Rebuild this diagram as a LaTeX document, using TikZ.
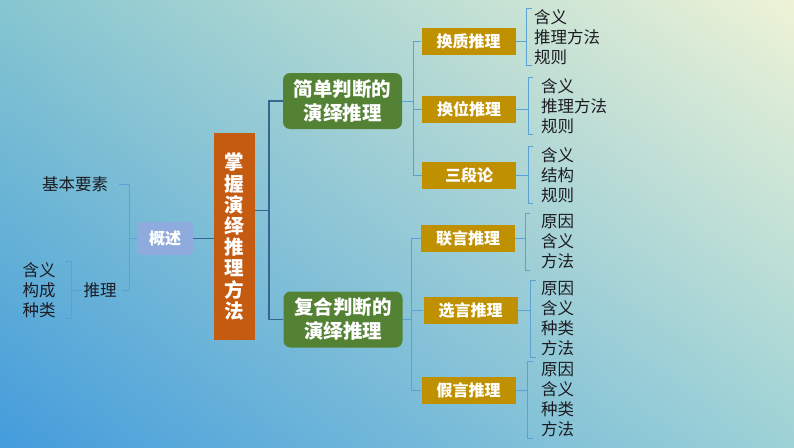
\documentclass[tikz,border=0pt]{standalone}
\usepackage{fontspec}
\setmainfont{Noto Sans CJK SC}
\usetikzlibrary{positioning,calc,shadings}
\definecolor{orng}{HTML}{C55A11}
\definecolor{grn}{HTML}{548235}
\definecolor{gold}{HTML}{BF9000}
\definecolor{gsblue}{HTML}{8FAADC}
\definecolor{ink}{HTML}{1C1C22}
\definecolor{lineblue}{HTML}{5AA2D6}
\definecolor{darkline}{HTML}{36658F}
\definecolor{bgtl}{HTML}{86C6D0}
\definecolor{bgtr}{HTML}{EEF3D6}
\definecolor{bgbl}{HTML}{449CDC}
\definecolor{bgbr}{HTML}{9DD2D6}

\begin{document}
\begin{tikzpicture}[x=1pt,y=-1pt,
	main/.style={fill=orng,text=white,font=\bfseries\fontsize{19.5}{21.2}\selectfont,align=center,minimum width=41pt,minimum height=207pt,inner sep=0pt},
	kind/.style={fill=grn,text=white,rounded corners=7pt,font=\bfseries\fontsize{19.5}{24}\selectfont,align=center,minimum width=119pt,minimum height=56pt,inner sep=0pt},
	sub/.style={fill=gold,text=white,font=\bfseries\fontsize{16}{18}\selectfont,minimum width=94pt,minimum height=27pt,inner sep=0pt},
	gsbox/.style={fill=gsblue,text=white,rounded corners=4pt,font=\bfseries\fontsize{16}{18}\selectfont,minimum width=56pt,minimum height=33pt,inner sep=0pt},
	item/.style={text=ink,font=\fontsize{16.5}{20}\selectfont,align=left,inner sep=1pt},
	brace/.style={draw=lineblue,line width=0.9pt},
	mainbrace/.style={draw=darkline,line width=1.5pt}]
	\shade[upper left=bgtl,upper right=bgtr,lower left=bgbl,lower right=bgbr] (0,0) rectangle (794,447);
	\useasboundingbox (0,0) rectangle (794,447);

	\node[main] (fa) at (234.5,236.5) {掌\\握\\演\\绎\\推\\理\\方\\法};
	\node[kind] (jd) at (342.5,101) {简单判断的\\演绎推理};
	\node[kind] (fh) at (343,319.5) {复合判断的\\演绎推理};
	\node[gsbox] (gs) at (165,238.5) {概述};
	\node[item] (yaosu) at (75,184) {基本要素};
	\node[item] (tl) at (100,290) {推理};
	\node[item] (tlx) at (39,290) {含义\\构成\\种类};

	\node[sub] (hz) at (468.5,41.5) {换质推理};
	\node[sub] (hw) at (469,109.5) {换位推理};
	\node[sub] (sd) at (469,175.5) {三段论};
	\node[sub] (ly) at (468,238.5) {联言推理};
	\node[sub] (xy) at (470.5,310) {选言推理};
	\node[sub] (jy) at (468.5,390) {假言推理};

	\node[item,anchor=west] (q1) at (533,37) {含义\\推理方法\\规则};
	\node[item,anchor=west] (q2) at (540,106) {含义\\推理方法\\规则};
	\node[item,anchor=west] (q3) at (540,175) {含义\\结构\\规则};
	\node[item,anchor=west] (q4) at (540,242) {原因\\含义\\方法};
	\node[item,anchor=west] (q5) at (540,318.5) {原因\\含义\\种类\\方法};
	\node[item,anchor=west] (q6) at (540,400) {原因\\含义\\种类\\方法};

	\coordinate (fam) at ($(jd.west)!0.5!(fh.west)+(-14,0)$);
	\draw[mainbrace] (jd.west) -| (fam) |- (fh.west);
	\draw[mainbrace] (fam) -- (fa.east |- fam);
	\draw[mainbrace,line width=1pt] (gs.east) -- (gs.east -| fa.west);

	\coordinate (gsm) at ($(gs.west)+(-7,0)$);
	\draw[brace] ([xshift=10]yaosu.east) -| (gsm) |- ([xshift=4]tl.east);
	\draw[brace] (gsm) -- (gs.west);
	\coordinate (tlm) at ($(tl.west)+(-11,0)$);
	\draw[brace] ([xshift=-6]tlm |- tlx.north) -- (tlm |- tlx.north) -- (tlm |- tlx.south) -- ++(-6,0);
	\draw[brace] (tlm) -- (tl.west);

	\coordinate (jdm) at ($(jd.east)+(11,0)$);
	\draw[brace] (hz.west) -| (jdm) |- (sd.west);
	\draw[brace] (jdm) -- (jd.east);
	\draw[brace] (jdm |- hw.west) -- (hw.west);
	\coordinate (fhm) at ($(fh.east)+(9,0)$);
	\draw[brace] (ly.west) -| (fhm) |- (jy.west);
	\draw[brace] (fhm) -- (fh.east);
	\draw[brace] (fhm |- xy.west) -- (xy.west);

	\coordinate (m1) at ($(hz.east)+(11,0)$);
	\draw[brace] (hz.east) -- (m1);
	\draw[brace] ([xshift=5]m1 |- q1.north) -- (m1 |- q1.north) -- (m1 |- q1.south) -- ++(5,0);
	\coordinate (m2) at ($(hw.east)+(12,0)$);
	\draw[brace] (hw.east) -- (m2);
	\draw[brace] ([xshift=5]m2 |- q2.north) -- (m2 |- q2.north) -- (m2 |- q2.south) -- ++(5,0);
	\coordinate (m3) at ($(sd.east)+(12,0)$);
	\draw[brace] (sd.east) -- (m3);
	\draw[brace] ([xshift=5]m3 |- q3.north) -- (m3 |- q3.north) -- (m3 |- q3.south) -- ++(5,0);
	\coordinate (m4) at ($(ly.east)+(10,0)$);
	\draw[brace] (ly.east) -- (m4);
	\draw[brace] ([xshift=5]m4 |- q4.north) -- (m4 |- q4.north) -- (m4 |- q4.south) -- ++(5,0);
	\coordinate (m5) at ($(xy.east)+(13,0)$);
	\draw[brace] (xy.east) -- (m5);
	\draw[brace] ([xshift=5]m5 |- q5.north) -- (m5 |- q5.north) -- (m5 |- q5.south) -- ++(5,0);
	\coordinate (m6) at ($(jy.east)+(12,0)$);
	\draw[brace] (jy.east) -- (m6);
	\draw[brace] ([xshift=5]m6 |- q6.north) -- (m6 |- q6.north) -- (m6 |- q6.south) -- ++(5,0);
\end{tikzpicture}
\end{document}
